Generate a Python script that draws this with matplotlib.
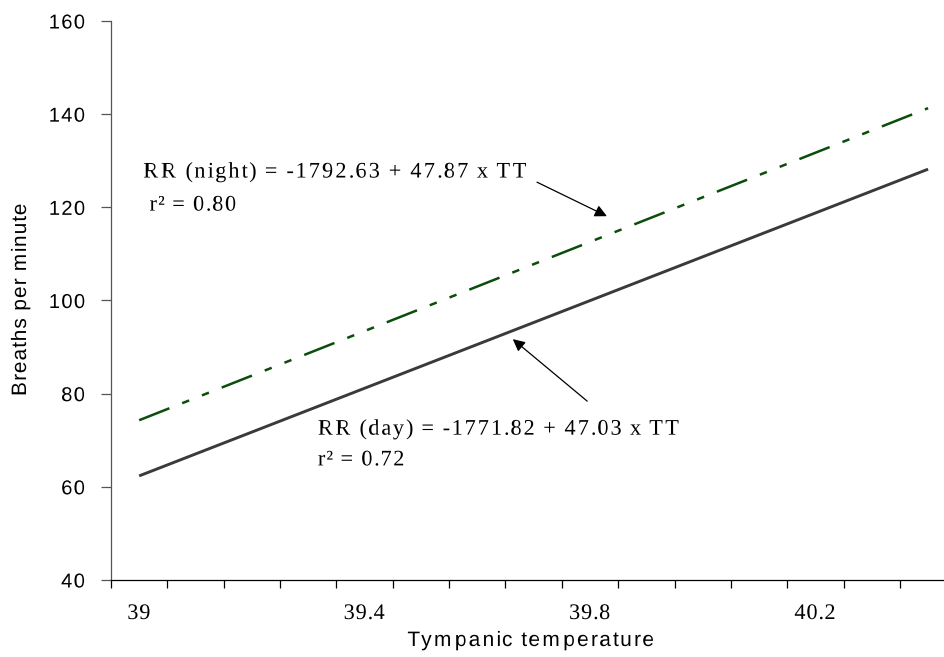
import numpy as np
import matplotlib
matplotlib.use('Agg')
import matplotlib.pyplot as plt
from matplotlib.path import Path
from matplotlib.patheffects import AbstractPathEffect

# regression lines (end points at 39.0 and 40.4 degC)
temp_range = [39.0, 40.4]
rr_day = [62.35, 128.19]
rr_night = [74.30, 141.29]

x_labels = ['39', '39.4', '39.8', '40.2']
x_label_pos = [39.0, 39.4, 39.8, 40.2]
y_ticks = [40, 60, 80, 100, 120, 140, 160]

night_eq = 'RR (night) = -1792.63 + 47.87 x TT'
night_r2 = ' r² = 0.80'
day_eq = 'RR (day) = -1771.82 + 47.03 x TT'
day_r2 = 'r² = 0.72'


class Tracking(AbstractPathEffect):
    """Spread the glyphs apart (the original text is letter-spaced)."""

    def __init__(self, factor, anchor='left'):
        super().__init__()
        self.factor = factor
        self.anchor = anchor

    def draw_path(self, renderer, gc, tpath, affine, rgbFace=None):
        verts = np.array(tpath.vertices, dtype=float)
        codes = tpath.codes
        if codes is not None and len(verts):
            real = codes != Path.CLOSEPOLY
            xmin, xmax = verts[real, 0].min(), verts[real, 0].max()
            ref = {'left': 0.0, 'center': (xmin + xmax) / 2, 'right': xmax}[self.anchor]
            starts = np.flatnonzero(codes == Path.MOVETO)
            ends = list(starts[1:]) + [len(verts)]
            for s, e in zip(starts, ends):
                seg = real[s:e]
                if not seg.any():
                    continue
                x0 = verts[s:e][seg, 0].min()
                verts[s:e, 0] += (self.factor - 1) * (x0 - ref)
            tpath = Path(verts, codes)
        renderer.draw_path(gc, tpath, affine, rgbFace)


fig = plt.figure(figsize=(9.45, 6.57), dpi=100)
ax = fig.add_axes([111 / 945, 77 / 657, 834 / 945, 559 / 657])

ax.plot(temp_range, rr_day, color='#3a3a3a', lw=2.1, solid_capstyle='butt')
night_line, = ax.plot(temp_range, rr_night, color='#0b4d0b', lw=1.8)
night_line.set_dashes([13, 5.5, 3, 5.5, 3, 5.5])

ax.set_xlim(38.95, 40.43)
ax.set_ylim(40, 160)

for side in ['top', 'right']:
    ax.spines[side].set_visible(False)
ax.spines['left'].set_color('#555555')
ax.spines['bottom'].set_color('black')
ax.spines['left'].set_linewidth(0.9)
ax.spines['bottom'].set_linewidth(0.9)

# category style axis: ticks at the boundaries, labels in between
ax.set_xticks(np.arange(38.95, 40.43, 0.1))
ax.set_xticklabels([])
ax.set_xticks(x_label_pos, minor=True)
ax.set_xticklabels(x_labels, minor=True, family='Liberation Serif', fontsize=16)
ax.tick_params(axis='x', which='major', length=6, width=0.9, color='black')
ax.tick_params(axis='x', which='minor', length=0, pad=18)

ax.set_yticks(y_ticks)
ax.set_yticklabels([str(v) for v in y_ticks], family='Liberation Sans', fontsize=14.5)
ax.tick_params(axis='y', length=7, width=0.9, color='#555555', pad=11)

for lbl in ax.get_xticklabels(minor=True):
    lbl.set_path_effects([Tracking(1.08, 'center')])
for lbl in ax.get_yticklabels():
    lbl.set_path_effects([Tracking(1.12, 'right')])

# axis titles
xl = fig.text(532 / 945, 1 - 646 / 657, 'Tympanic temperature', ha='center', va='baseline',
              family='Liberation Sans', fontsize=15)
xl.set_path_effects([Tracking(1.2, 'center')])
yl = fig.text(26 / 945, 1 - 299 / 657, 'Breaths per minute', ha='center', va='baseline',
              rotation=90, rotation_mode='anchor', family='Liberation Sans', fontsize=15)
yl.set_path_effects([Tracking(1.1, 'center')])

# equations
serif = dict(family='Liberation Serif', fontsize=16, va='baseline', ha='left')
for txt, x, y, f in [(night_eq, 39.007, 126.4, 1.2), (night_r2, 39.007, 119.3, 1.15),
                     (day_eq, 39.317, 71.2, 1.18), (day_r2, 39.317, 64.6, 1.15)]:
    t = ax.text(x, y, txt, **serif)
    t.set_path_effects([Tracking(f, 'left')])

arrow = dict(arrowstyle='-|>', color='black', lw=0.9, mutation_scale=18,
             shrinkA=0, shrinkB=0)
ax.annotate('', xy=(39.830, 118.1), xytext=(39.706, 125.4), arrowprops=arrow)
ax.annotate('', xy=(39.663, 91.7), xytext=(39.795, 78.4), arrowprops=arrow)

fig.savefig('out.png', dpi=100)
